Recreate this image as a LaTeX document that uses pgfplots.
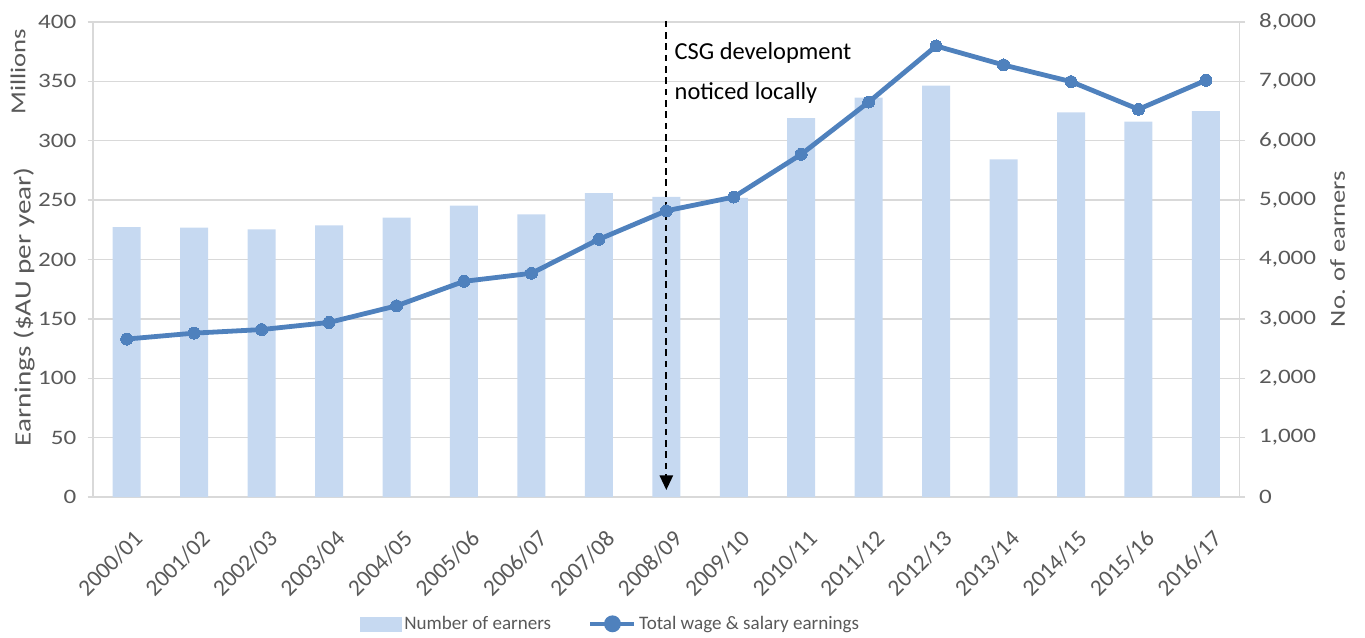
\documentclass[border=0pt]{standalone}
\usepackage{fontspec}
\setmainfont{Carlito}
\newfontfamily\tickfont[FakeStretch=1.22]{Carlito}
\newfontfamily\labfont[FakeStretch=1.25]{Carlito}
\usepackage{pgfplots}
\pgfplotsset{compat=1.18}
\usetikzlibrary{arrows.meta}
\definecolor{barc}{HTML}{C6D9F1}
\definecolor{linec}{HTML}{4F81BD}
\definecolor{gridc}{HTML}{D9D9D9}
\definecolor{txt}{HTML}{595959}
\begin{document}
\begin{tikzpicture}
\path[use as bounding box] (-69.75pt,-105pt) rectangle (954pt,372.75pt);
\begin{axis}[
  at={(0pt,0pt)}, anchor=south west,
  scale only axis, width=860pt, height=356.25pt,
  xmin=-0.5, xmax=16.5, ymin=0, ymax=8000,
  axis y line*=right, axis x line*=bottom,
  axis line style={gridc, line width=1.1pt},
  ytick={0,1000,...,8000},
  scaled y ticks=false,
  /pgf/number format/assume math mode=true,
  /pgf/number format/1000 sep={,},
  ymajorgrids, major grid style={gridc, line width=1.1pt},
  tick align=outside, major tick length=4pt,
  tick style={gridc, line width=1pt},
  xtick={0,...,16},
  xticklabels={2000/01,2001/02,2002/03,2003/04,2004/05,2005/06,2006/07,2007/08,2008/09,2009/10,2010/11,2011/12,2012/13,2013/14,2014/15,2015/16,2016/17},
  x tick style={draw=none},
  x tick label style={rotate=45, anchor=north east, font=\fontsize{17.5}{18}\selectfont, text=txt, inner sep=0pt, xshift=-11pt, yshift=-17pt},
  y tick label style={font=\tickfont\fontsize{15.4}{18}\selectfont, text=txt, xshift=7pt},
  clip=false,
]
\addplot[ybar, fill=barc, draw=none, bar width=21pt] coordinates {
(0,4547) (1,4536) (2,4509) (3,4576) (4,4704) (5,4906) (6,4761) (7,5120) (8,5053)
(9,5036) (10,6383) (11,6725) (12,6928) (13,5687) (14,6479) (15,6321) (16,6501)
};
\node[rotate=90, text=txt, font=\labfont\fontsize{16}{18}\selectfont] at (axis description cs:1.0855,0.522) {No. of earners};
\end{axis}
\begin{axis}[
  at={(0pt,0pt)}, anchor=south west,
  scale only axis, width=860pt, height=356.25pt,
  xmin=-0.5, xmax=16.5, ymin=0, ymax=400,
  axis y line*=left, axis x line=none,
  axis line style={gridc, line width=1.1pt},
  ytick={0,50,...,400},
  /pgf/number format/assume math mode=true,
  tick align=outside, major tick length=4pt,
  tick style={gridc, line width=1pt},
  y tick label style={font=\tickfont\fontsize{15.4}{18}\selectfont, text=txt, xshift=-5pt},
  clip=false,
  legend style={at={(axis description cs:0.4516,-0.267)}, anchor=center, draw=none, fill=none,
    legend columns=2, font=\fontsize{14.3}{17}\selectfont, text=txt,
    /tikz/every even column/.append style={column sep=26pt}},
  legend cell align=left,
]
\addlegendimage{legend image code/.code={\fill[barc] (0pt,-5.5pt) rectangle (31pt,5pt);}}
\addlegendentry{Number of earners}
\addplot[linec, line width=3.6pt, mark=*, mark size=4.5pt, mark options={fill=linec, draw=linec, line width=0pt},
  legend image code/.code={\draw[linec, line width=3pt] (0pt,0pt) -- (33pt,0pt); \fill[linec] (16.5pt,0pt) circle (4.5pt);}]
coordinates {
(0,133) (1,138) (2,141) (3,147) (4,161) (5,181.6) (6,188.4) (7,217) (8,241)
(9,252.6) (10,288.6) (11,332.6) (12,379.8) (13,363.8) (14,349.8) (15,326.5) (16,350.9)
};
\addlegendentry{Total wage \& salary earnings}
\draw[black, line width=1.3pt, dash pattern=on 5pt off 3.5pt, -{Triangle[length=11pt,width=10pt]}] (axis cs:8,401) -- (axis cs:8,5.9);
\node[anchor=west, font=\fontsize{18.3}{22}\selectfont, inner sep=0pt] at (axis cs:8.12,374) {CSG development};
\node[anchor=west, font=\fontsize{18.3}{22}\selectfont, inner sep=0pt] at (axis cs:8.12,340) {noticed locally};
\node[rotate=90, text=txt, font=\labfont\fontsize{16}{18}\selectfont] at (axis description cs:-0.0654,0.895) {Millions};
\node[rotate=90, text=txt, font=\labfont\fontsize{17.5}{18}\selectfont] at (axis description cs:-0.0600,0.40) {Earnings (\$AU per year)};
\end{axis}
\end{tikzpicture}
\end{document}
